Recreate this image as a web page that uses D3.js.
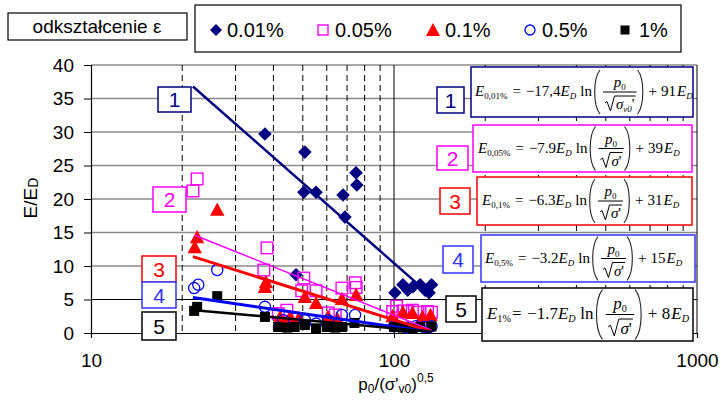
<!DOCTYPE html>
<html><head><meta charset="utf-8">
<script src="https://cdn.jsdelivr.net/npm/d3@7"></script>
<style>body{margin:0;background:#fff} svg{display:block}</style>
</head><body>
<svg id="c" width="721" height="401"></svg>
<script>
// ---------------- DATA ----------------
const seriesNames = ["0.01%", "0.05%", "0.1%", "0.5%", "1%"];
const s001 = [[37.5,29.7],[50.8,27.0],[50.4,21.0],[55.3,21.0],[67.9,20.6],[74.9,23.9],[75.4,22.1],[68.9,17.3],[47.5,8.7],[100.7,6.0],[107,7.2],[111,6.4],[115.5,6.9],[122,7.2],[126.6,6.4],[133,7.2],[130.5,6.0]];
const s005 = [[22.4,23.0],[21.7,21.2],[38.1,12.7],[37.2,9.4],[50.4,8.2],[49.6,6.3],[55.3,6.3],[67.3,6.7],[74.5,7.5],[75,6.8],[44.3,3.4],[41.5,2.9],[60.7,3.0],[64,2.7],[99,3.2],[102,4.0],[107,3.3],[111,3.2],[115,3.4],[120,3.1],[129,3.2],[133,3.1]];
const s01 = [[26.1,18.4],[22.4,14.3],[22.0,12.8],[37.8,7.6],[37.5,6.9],[50.8,5.4],[55.3,4.5],[67.3,5.1],[75,5.7],[42.1,2.4],[45.4,2.4],[48.5,2.2],[60.5,2.4],[65,2.1],[99,2.5],[107,3.1],[115,3.0],[124,2.4],[132,2.7]];
const s05 = [[26.1,9.4],[21.9,6.7],[22.6,7.2],[37.5,3.9],[43.1,1.9],[50.8,1.9],[55.3,1.4],[60.6,1.9],[67.3,2.7],[74.4,2.7],[100,1.0],[110,0.8],[118,1.0],[126,0.9],[133,1.0]];
const s1 = [[26.1,5.5],[22.4,3.9],[21.9,3.3],[37.5,2.4],[41.5,0.9],[44.5,0.8],[47,0.9],[50.8,1.2],[55.3,0.7],[60,0.9],[64,0.8],[67.3,0.9],[74,1.5],[100,0.9],[107,0.8],[115,0.7],[122,0.9],[133,1.0]];
// trend line end points
const t001 = [[21.7,36.8],[133,5.5]];
const t005 = [[22,14.6],[133,0.4]];
const t01 = [[21.7,11.4],[133,0.2]];
const t05 = [[21.7,5.3],[133,0.1]];
const t1 = [[22,3.4],[133,0.2]];
const yTicks = [0,5,10,15,20,25,30,35,40];
const xTicks = [10,100,1000];
const xMinor = [20,30,40,50,60,70,80,90,200,300,400,500,600,700,800,900];
const labelNums = ["1","2","3","4","5"];
const eqSub = ["0,01%","0,05%","0,1%","0,5%","1%"];
const eqCoef = ["\u221217,4","\u22127.9","\u22126.3","\u22123.2","\u22121.7"];
const eqConst = ["91","39","31","15","8"];
const legendTitle = "odkształcenie \u03b5";

// ---------------- STYLE / LAYOUT ----------------
const colors = ["#000080","#FF00FF","#FF0000","#0000FF","#000000"];
const boxColors = ["#000080","#FF00FF","#FF0000","#3333FF","#000000"];
const lineW = [2.5,1.5,3,3,2.5];
const svg = d3.select("#c");
const x = d3.scaleLog().domain([10,1000]).range([91,697]);
const y = d3.scaleLinear().domain([0,40]).range([333,65]);
const arial = "Arial, 'Liberation Sans', sans-serif";
const serif = "'Liberation Serif','Times New Roman',serif";

// gridlines
const grid = svg.append("g");
grid.selectAll("line.h").data(yTicks.filter(d=>d>0)).join("line")
  .attr("x1",x(10)).attr("x2",x(1000)).attr("y1",d=>y(d)).attr("y2",d=>y(d))
  .attr("stroke",d=>d===5?"#000":"#8a8a8a").attr("stroke-width",d=>d===5?1.2:1.6);
grid.selectAll("line.v").data(xMinor).join("line")
  .attr("x1",d=>x(d)).attr("x2",d=>x(d)).attr("y1",y(40)).attr("y2",y(0))
  .attr("stroke","#000").attr("stroke-width",1).attr("stroke-dasharray","6,4");
grid.selectAll("line.m").data([100,1000]).join("line")
  .attr("x1",d=>x(d)).attr("x2",d=>x(d)).attr("y1",y(40)).attr("y2",y(0))
  .attr("stroke","#000").attr("stroke-width",1);

// axes
const yAxis = d3.axisLeft(y).tickValues(yTicks).tickSize(7).tickPadding(10);
const gy = svg.append("g").attr("transform",`translate(${x(10)},0)`).call(yAxis);
gy.select(".domain").attr("stroke","#000").attr("stroke-width",1.2);
gy.selectAll("line").attr("stroke","#000");
gy.selectAll("text").attr("font-family",arial).attr("font-size",19).attr("fill","#000");
const xAxis = d3.axisBottom(x).tickValues(xTicks).tickFormat(d3.format("d")).tickSize(5).tickPadding(16);
const gx = svg.append("g").attr("transform",`translate(0,${y(0)})`).call(xAxis);
gx.select(".domain").attr("stroke","#000").attr("stroke-width",1.2);
gx.selectAll("line").attr("stroke","#000");
gx.selectAll("text").attr("font-family",arial).attr("font-size",19).attr("fill","#000");

// markers
const shapes = {
  diamond: (g,c,r)=>g.append("path").attr("d",`M0,${-r}L${r},0L0,${r}L${-r},0Z`).attr("fill",c),
  osq: (g,c,r)=>g.append("rect").attr("x",-r).attr("y",-r).attr("width",2*r).attr("height",2*r).attr("fill","none").attr("stroke",c).attr("stroke-width",1.4),
  tri: (g,c,r)=>g.append("path").attr("d",`M0,${-r}L${r},${r*0.85}L${-r},${r*0.85}Z`).attr("fill",c),
  ocirc: (g,c,r)=>g.append("circle").attr("r",r).attr("fill","none").attr("stroke",c).attr("stroke-width",1.3),
  sq: (g,c,r)=>g.append("rect").attr("x",-r).attr("y",-r).attr("width",2*r).attr("height",2*r).attr("fill",c)
};
const shapeKey = ["diamond","osq","tri","ocirc","sq"];
const shapeR = [6.8,5.8,7.2,5.6,5];
const allSeries = [s001,s005,s01,s05,s1];
const allTrends = [t001,t005,t01,t05,t1];
allSeries.forEach((s,i)=>{
  const g = svg.append("g");
  s.forEach(d=>{
    const m = g.append("g").attr("transform",`translate(${x(d[0])},${y(d[1])})`);
    shapes[shapeKey[i]](m,colors[i],shapeR[i]);
  });
});
const line = d3.line().x(d=>x(d[0])).y(d=>y(d[1]));
allTrends.forEach((t,i)=>{
  svg.append("path").attr("d",line(t)).attr("fill","none").attr("stroke",colors[i]).attr("stroke-width",lineW[i]);
});

// number label boxes
const leftBoxes = [[158,87,33,25],[153,187,33,25],[142,256,34,26],[142,282,34,26],[142,312,34,28]];
const rightBoxes = [[437,87,27,26],[437,146,31,24],[440,188,30,26],[443,246,30,27],[446,296,30,26]];
function numBox(b,i){
  svg.append("rect").attr("x",b[0]).attr("y",b[1]).attr("width",b[2]).attr("height",b[3])
    .attr("fill","#fff").attr("stroke",boxColors[i]).attr("stroke-width",1.5);
  svg.append("text").attr("x",b[0]+b[2]/2).attr("y",b[1]+b[3]/2+7.5).attr("text-anchor","middle")
    .attr("font-family",arial).attr("font-size",21).attr("fill",boxColors[i]).text(labelNums[i]);
}
leftBoxes.forEach(numBox);
rightBoxes.forEach(numBox);

// equation boxes
const eqBoxes = [[471,67,222,50],[473,125,219,47],[477,177,215,48],[481,235,214,47],[482,288,211,53]];
const eqStart = [475,478,482,485,487];
const eqScale = [1,1,1,1,1.13];
function paren(g,px,cy,left,k){
  const h = 22*k, w = 7*k;
  const d = left ? `M${px+w},${cy-h} C${px},${cy-h*0.6} ${px},${cy+h*0.6} ${px+w},${cy+h}`
                 : `M${px},${cy-h} C${px+w},${cy-h*0.6} ${px+w},${cy+h*0.6} ${px},${cy+h}`;
  g.append("path").attr("d",d).attr("fill","none").attr("stroke","#222").attr("stroke-width",1.1);
}
eqBoxes.forEach((b,i)=>{
  svg.append("rect").attr("x",b[0]).attr("y",b[1]).attr("width",b[2]).attr("height",b[3])
    .attr("fill","#fff").attr("stroke",boxColors[i]).attr("stroke-width",1.5);
  const g = svg.append("g");
  const k = eqScale[i];
  const F = 15*k, f = 9*k;
  const cy = b[1]+b[3]/2;
  const base = cy+4*k;
  let cx = eqStart[i];
  function put(txt,o={}){
    const t = g.append("text").attr("x",cx).attr("y",o.y ?? base).attr("font-family",serif)
      .attr("font-size",o.fs||F).attr("font-style",o.it?"italic":"normal").attr("fill","#000").text(txt);
    cx += t.node().getComputedTextLength() + (o.gap||0)*k;
    return t;
  }
  put("E",{it:true});
  put(eqSub[i],{fs:f,y:base+3*k,gap:i===4?1:5});
  put("=",{gap:5});
  put(eqCoef[i],{gap:0});
  put("E",{it:true});
  put("D",{it:true,fs:f,y:base+3*k,gap:4});
  put("ln",{gap:1});
  paren(g,cx,cy,true,k); cx += 10*k;
  // fraction
  const num = g.append("text").attr("font-family",serif).attr("font-size",F).attr("y",cy-5*k);
  num.append("tspan").attr("font-style","italic").text("p");
  num.append("tspan").attr("font-size",f).attr("dy",3*k).text("0");
  const wn = num.node().getComputedTextLength();
  const den = g.append("text").attr("font-family",serif).attr("font-size",F).attr("y",cy+17*k);
  den.append("tspan").attr("font-style","italic").text("\u03c3");
  if(i===0){
    den.append("tspan").attr("font-size",f).attr("font-style","italic").attr("dy",3).text("v0");
    den.append("tspan").attr("dy",-3).text("'");
  } else {
    den.append("tspan").text("'");
  }
  const wsig = den.node().getComputedTextLength();
  const rw = 11*k;
  const wd = wsig + rw;
  const W = Math.max(wn,wd)+4*k;
  g.append("line").attr("x1",cx).attr("x2",cx+W).attr("y1",cy).attr("y2",cy).attr("stroke","#000").attr("stroke-width",1);
  num.attr("x",cx+(W-wn)/2);
  const dx0 = cx+(W-wd)/2;
  den.attr("x",dx0+rw);
  g.append("path").attr("d",`M${dx0},${cy+11*k} L${dx0+2*k},${cy+9.5*k} L${dx0+5.5*k},${cy+19*k} L${dx0+9.5*k},${cy+4*k} L${dx0+rw+wsig+1},${cy+4*k}`)
    .attr("fill","none").attr("stroke","#000").attr("stroke-width",1);
  cx += W + 1;
  paren(g,cx,cy,false,k); cx += 11*k;
  put("+",{gap:4});
  put(eqConst[i],{gap:1});
  put("E",{it:true});
  put("D",{it:true,fs:f,y:base+3*k});
});

// legend
svg.append("rect").attr("x",8).attr("y",13).attr("width",179).attr("height",27).attr("fill","#fff").attr("stroke","#000").attr("stroke-width",1.2);
svg.append("text").attr("x",97).attr("y",33).attr("text-anchor","middle").attr("font-family",arial).attr("font-size",19).text(legendTitle);
svg.append("rect").attr("x",195).attr("y",5).attr("width",486).attr("height",47).attr("fill","#fff").attr("stroke","#000").attr("stroke-width",1.2);
const legMx = [216,323,433,530,625];
const legTx = [227,335,445,542,639];
seriesNames.forEach((n,i)=>{
  const m = svg.append("g").attr("transform",`translate(${legMx[i]},30)`);
  shapes[shapeKey[i]](m,colors[i],[6,5,7,5,4.5][i]);
  svg.append("text").attr("x",legTx[i]).attr("y",37).attr("font-family",arial).attr("font-size",20).attr("fill","#000").text(n);
});

// axis titles
const yt = svg.append("text").attr("transform","translate(37,198) rotate(-90)").attr("text-anchor","middle")
  .attr("font-family",arial).attr("font-size",19).attr("fill","#000");
yt.append("tspan").text("E/E");
yt.append("tspan").attr("font-size",14).attr("dy",1).text("D");
const xt = svg.append("text").attr("x",396).attr("y",390).attr("text-anchor","middle")
  .attr("font-family",arial).attr("font-size",17).attr("fill","#000");
xt.append("tspan").text("p");
xt.append("tspan").attr("font-size",12).attr("dy",3).text("0");
xt.append("tspan").attr("dy",-3).text("/(\u03c3'");
xt.append("tspan").attr("font-size",12).attr("dy",3).text("v0");
xt.append("tspan").attr("dy",-3).text(")");
xt.append("tspan").attr("font-size",12).attr("dy",-8).text("0,5");
</script>
</body></html>
